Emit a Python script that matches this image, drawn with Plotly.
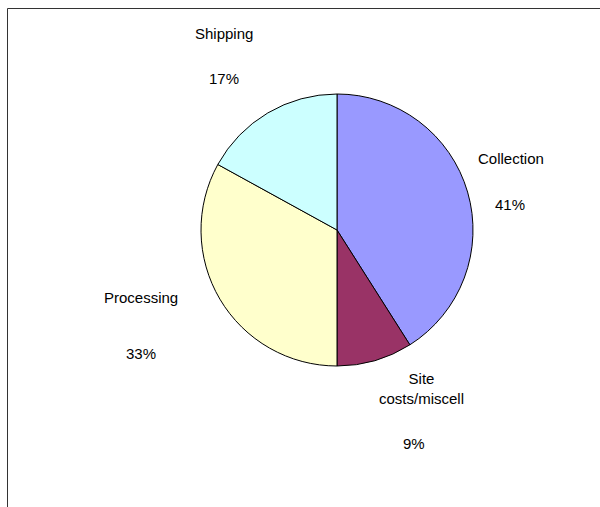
import plotly.graph_objects as go

# Data
categories = ["Collection", "Site<br>costs/miscell", "Processing", "Shipping"]
values = [41, 9, 33, 17]
colors = ["#9999FF", "#993366", "#FFFFCC", "#CCFFFF"]

# Layout geometry (pixels)
W, H = 600, 507
cx, cy, R = 337, 230, 136
# label placement: offsets of (name, percent) centers from pie center, in px
name_offsets = [(174, -72), (84, 158), (-196, 67), (-113, -197)]
pct_offsets = [(173, -26), (77, 213), (-196, 123), (-113, -152)]

fig = go.Figure()
fig.add_trace(go.Pie(
    labels=categories,
    values=values,
    sort=False,
    direction="clockwise",
    rotation=0,
    marker=dict(colors=colors, line=dict(color="black", width=1)),
    textinfo="none",
    hoverinfo="label+percent",
    showlegend=False,
    domain=dict(x=[(cx - R) / W, (cx + R) / W],
                y=[(H - cy - R) / H, (H - cy + R) / H]),
))

total = sum(values)
font = dict(family="Liberation Sans, Arial, sans-serif", size=15, color="black")
for cat, v, no, po in zip(categories, values, name_offsets, pct_offsets):
    fig.add_annotation(x=(cx + no[0]) / W, y=1 - (cy + no[1]) / H, xref="paper", yref="paper",
                       text=cat, showarrow=False, xanchor="center", yanchor="middle", font=font)
    fig.add_annotation(x=(cx + po[0]) / W, y=1 - (cy + po[1]) / H, xref="paper", yref="paper",
                       text=f"{round(100 * v / total)}%", showarrow=False,
                       xanchor="center", yanchor="middle", font=font)

fig.add_shape(type="rect", xref="paper", yref="paper",
              x0=7.5 / W, x1=1.2, y0=-0.2, y1=1 - 8.5 / H,
              line=dict(color="#333333", width=1), fillcolor="rgba(0,0,0,0)")

fig.update_layout(width=W, height=H, margin=dict(l=0, r=0, t=0, b=0),
                  paper_bgcolor="white", plot_bgcolor="white")

fig.write_html("out.html",
               config={"displayModeBar": False},
               post_script="document.body.style.margin='0';document.body.style.overflow='hidden';")
